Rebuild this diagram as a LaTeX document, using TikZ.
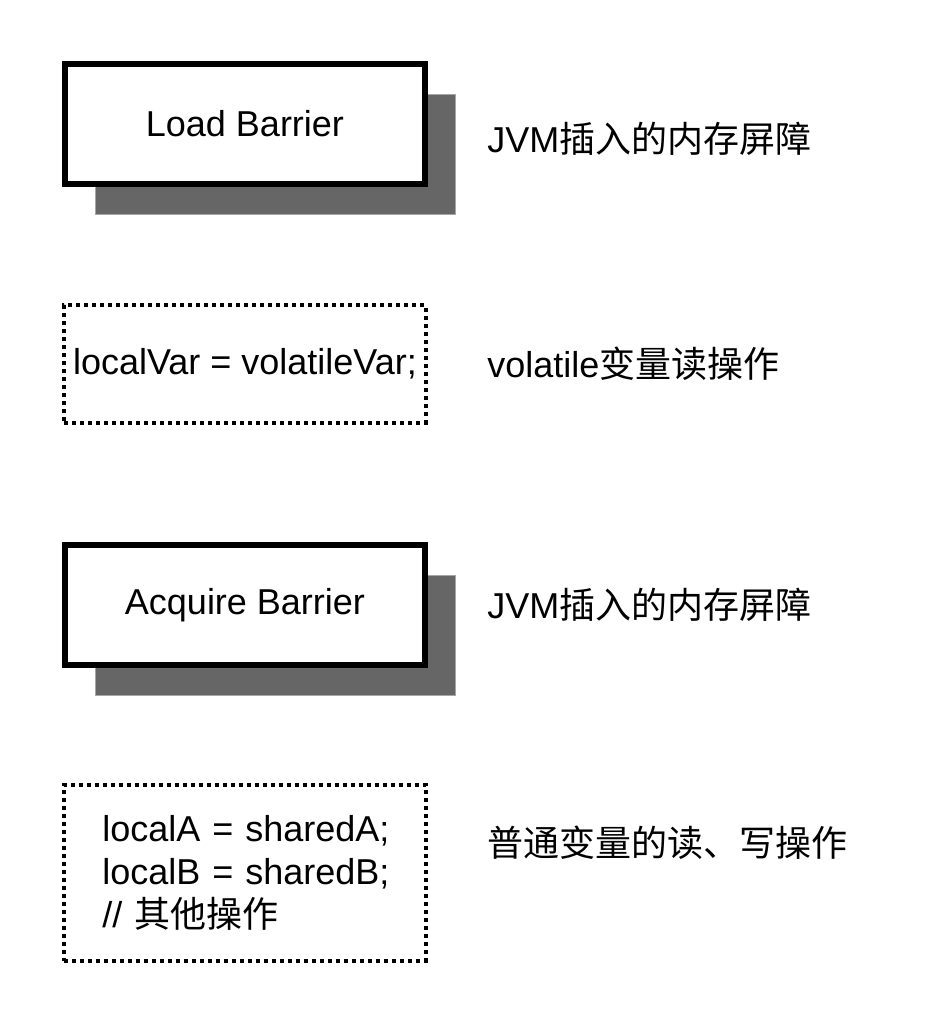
\documentclass[tikz,border=0pt]{standalone}
\usepackage{fontspec}
\setmainfont{Liberation Sans}
\newfontfamily\cjk{Noto Sans CJK SC}
\usetikzlibrary{shadows}
\definecolor{shadowgray}{HTML}{666666}
\begin{document}
\begin{tikzpicture}[x=0.75pt,y=-0.75pt,
    txt/.style={font=\fontsize{27}{32}\selectfont},
    barrier/.style={txt,draw,line width=3.8pt,fill=white,minimum width=270pt,minimum height=90pt,
        general shadow={shadow xshift=22.5pt,shadow yshift=-22.5pt,fill=shadowgray,draw=gray!70,line width=0.6pt}},
    opbox/.style={txt,draw,line width=3pt,dash pattern=on 3pt off 3pt,minimum width=271pt},
    note/.style={txt,anchor=west,inner sep=0pt}]
    \useasboundingbox (0,0) rectangle (939,1026);
    \node[barrier] (load) at (245,124) {Load Barrier};
    \node[note] (loadnote) at (487,139) {JVM{\cjk 插入的内存屏障}};
    \node[opbox,minimum height=88pt,inner sep=0pt] (volread) at (245,364) {localVar = volatileVar;\hspace{6pt}};
    \node[note] (readnote) at (487,364) {volatile{\cjk 变量读操作}};
    \node[barrier] (acquire) at (245,605) {Acquire Barrier};
    \node[note] (acqnote) at (487,605) {JVM{\cjk 插入的内存屏障}};
    \node[opbox,minimum height=132pt,text width=240pt,align=left] (normal) at (245,873)
        {\hspace{13pt}localA = sharedA;\\\hspace{13pt}localB = sharedB;\\\hspace{13pt}// {\cjk 其他操作}};
    \node[note] (normalnote) at (487,843) {{\cjk 普通变量的读、写操作}};
\end{tikzpicture}
\end{document}
